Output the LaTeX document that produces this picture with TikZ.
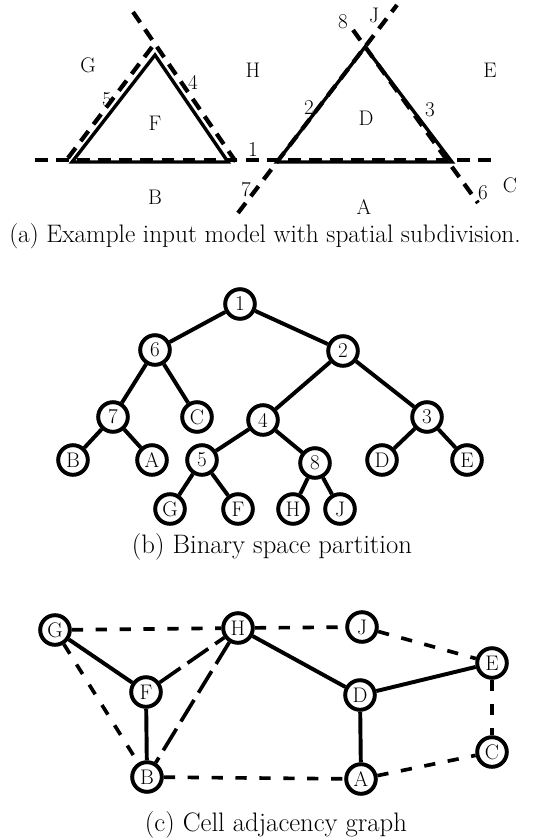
\documentclass[tikz,border=0pt]{standalone}
\usetikzlibrary{positioning}
\begin{document}
\begin{tikzpicture}[x=0.025cm, y=-0.025cm,
    cell/.style={circle, draw, line width=2.8pt, minimum size=0.74cm,
                 inner sep=0pt, font=\fontsize{15}{15}\selectfont},
    lbl/.style={inner sep=1pt, font=\fontsize{15}{15}\selectfont},
    subcap/.style={inner sep=0pt, font=\fontsize{19}{22}\selectfont},
    edge/.style={line width=2.8pt},
    wall/.style={line width=2.4pt},
    split/.style={line width=3pt, dash pattern=on 9pt off 6pt},
    adj/.style={line width=2.6pt, dash pattern=on 8pt off 9pt},
    adjlong/.style={line width=2.6pt, dash pattern=on 18pt off 6pt}
  ]
  \useasboundingbox (0,0) rectangle (541,839);
  % (a) input model
  \coordinate (fl) at (72,162);
  \coordinate (ft) at (155,55);
  \coordinate (fr) at (228,162);
  \coordinate (dl) at (277,162);
  \coordinate (dt) at (365,47);
  \coordinate (dr) at (452,162);
  \draw[wall] (fl) -- (ft) -- (fr) -- cycle;
  \draw[wall] (dl) -- (dt) -- (dr) -- cycle;
  % splitting planes
  \draw[split] (35,160) -- (495,160);
  \draw[split] (68,158) -- (152,47);
  \draw[split] (133,12) -- (236,162);
  \draw[split] (238,213) -- (397,5);
  \draw[split] (353,30) -- (478,203);
  % cell and plane labels
  \foreach \n/\x/\y in {G/88/65, H/253/70, E/490/70, F/155/123, D/366/118,
                        B/155/197, A/364/207, C/510/185, J/374/15}
    \node[lbl] (a\n) at (\x,\y) {\n};
  \foreach \n/\x/\y in {1/253/150, 2/309/108, 3/430/110, 4/193/82, 5/107/100,
                        6/483/193, 7/246/190, 8/343/22}
    \node[lbl] (p\n) at (\x,\y) {\n};
  \node[subcap, font=\fontsize{18}{21}\selectfont] (capa) at (265,236)
    {(a) Example input model with spatial subdivision.};
  % (b) binary space partition
  \foreach \n/\x/\y in {1/240/304, 6/155/350, 2/343/351, 7/113/417, C/197/417,
                        4/263/420, 3/427/417, B/73/460, A/152/460, 5/202/460,
                        8/315/463, D/382/460, E/467/460, G/170/509, F/238/509,
                        H/293/509, J/340/509}
    \node[cell] (t\n) at (\x,\y) {\n};
  \foreach \a/\b in {1/6, 1/2, 6/7, 6/C, 7/B, 7/A, 2/4, 2/3, 4/5, 4/8,
                     5/G, 5/F, 8/H, 8/J, 3/D, 3/E}
    \draw[edge] (t\a) -- (t\b);
  \node[subcap] (capb) at (272,547) {(b) Binary space partition};
  % (c) cell adjacency graph
  \foreach \n/\x/\y in {G/55/630, H/238/628, J/362/627, E/492/663, F/146/692,
                        D/360/695, C/492/752, B/147/777, A/361/779}
    \node[cell] (c\n) at (\x,\y) {\n};
  \foreach \a/\b in {G/F, F/B, H/D, D/E, D/A}
    \draw[edge] (c\a) -- (c\b);
  \foreach \a/\b in {G/H, H/J, J/E, G/B, E/C, B/A, A/C}
    \draw[adj] (c\a) -- (c\b);
  \foreach \a/\b in {F/H, H/B}
    \draw[adjlong] (c\a) -- (c\b);
  \node[subcap] (capc) at (276,825) {(c) Cell adjacency graph};
\end{tikzpicture}
\end{document}
